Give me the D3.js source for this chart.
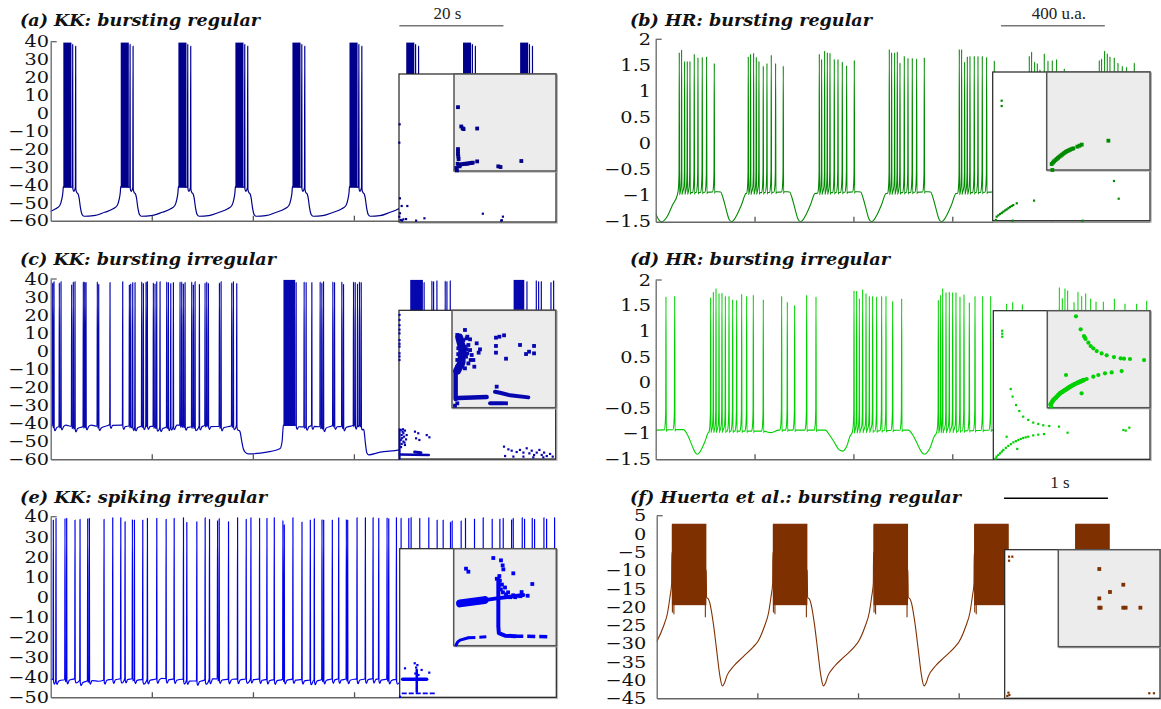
<!DOCTYPE html>
<html>
<head>
<meta charset="utf-8">
<script src="https://cdnjs.cloudflare.com/ajax/libs/d3/7.8.5/d3.min.js"></script>
<style>
  body { margin: 0; background: #fff; }
  svg  { display: block; }
</style>
</head>
<body>
<svg id="fig" width="1161" height="709"></svg>
<script>
// ── Data (time in normalised units 0–100 per panel, voltage in axis units) ──

const kkRegTicks   = [-60, -50, -40, -30, -20, -10, 0, 10, 20, 30, 40];
const kkSpkTicks   = [-50, -40, -30, -20, -10, 0, 10, 20, 30, 40];
const hrTicks      = [-1.5, -1, -0.5, 0, 0.5, 1, 1.5, 2];
const huertaTicks  = [-45, -40, -35, -30, -25, -20, -15, -10, -5, 0, 5];
const timeTicks    = [20, 40, 60, 80];

// (a) KK bursting regular
const kkRegOnsets = [2.5, 13.86, 25.27, 36.55, 47.84, 59.13, 70.36, 81.6, 92.9];
const kkRegBlock  = [0, 1.6];                       // dense spiking part of a burst
const kkRegSpan   = [-41.5, 39.5];                  // trough / crest of the dense part
const kkRegTail   = [[1.85, 38.5], [2.44, 37.5]];   // last separated spikes
const kkRegPre    = [[-3.2, -55.3], [-1.6, -53.5], [-0.7, -51.5], [-0.3, -48], [-0.08, -44], [0, -41]];
const kkRegPost   = [[1.6, -41.2], [2.55, -41.5], [2.8, -42.5], [3.1, -47], [3.4, -53], [3.7, -56.5], [4.1, -57.5], [6, -57.2]];

// (b) HR bursting regular
const hrRegOnsets = [4.77, 18.73, 33.1, 47.26, 61.42, 75.58, 89.74];
const hrRegOffsets = [0, 0.47, 1.08, 1.62, 2.16, 3.03, 3.78, 4.65, 5.53, 7.08];
const hrRegPeaks = [
  [1.75, 1.80, 1.58, 1.58, 1.58, 1.72, 1.65, 1.66, 1.67, 1.54],
  [1.67, 1.72, 1.74, 1.66, 1.58, 1.49, 1.54, 1.70, 1.54, 1.49],
  [1.72, 1.62, 1.78, 1.75, 1.74, 1.62, 1.62, 1.57, 1.50, 1.60],
  [1.81, 1.75, 1.75, 1.76, 1.55, 1.68, 1.64, 1.64, 1.63, 1.65],
  [1.81, 1.81, 1.57, 1.67, 1.68, 1.68, 1.68, 1.68, 1.66, 1.59],
  [1.68, 1.76, 1.57, 1.54, 1.42, 1.73, 1.59, 1.60, 1.62, 1.44],
  [1.60, 1.63, 1.78, 1.73, 1.67, 1.65, 1.55, 1.49, 1.47, 1.55]
];
const hrRegLead = [[0, -1.34], [0.6, -1.46], [1.2, -1.5], [2.2, -1.42], [3.4, -1.18], [4.4, -0.97]];
const hrRegWave = [[0, -0.95], [7.1, -0.93], [7.25, -0.92], [8.36, -0.93], [8.9, -1.06], [9.58, -1.3],
                   [10.05, -1.45], [10.55, -1.5], [11.1, -1.46], [11.6, -1.38], [12.61, -1.17], [13.49, -0.96]];

// (c) KK bursting irregular
const kkIrrSpikes = [
  [0.39, 38], [0.65, 38.5], [1.71, 38], [2.04, 38.5], [4.15, 37], [4.48, 38.5], [4.81, 38.5],
  [6.46, 38.5], [6.73, 38.5], [6.99, 38], [9.23, 38.5], [9.5, 37], [11.74, 38], [14.25, 38.5],
  [15.57, 37], [15.84, 37.5], [16.23, 38], [16.69, 38], [18.01, 38.5], [18.34, 37.5], [18.87, 38.5],
  [19.13, 38.5], [20.32, 38], [20.65, 37.5], [20.98, 38.5], [21.64, 38.5], [22.96, 38.5], [23.29, 38],
  [23.76, 37.5], [24.28, 38], [25.6, 38.5], [25.93, 38.5], [26.26, 37.5], [26.59, 38], [27.91, 38.5],
  [28.24, 37], [28.57, 38.5], [29.43, 37], [30.55, 38], [30.88, 38.5], [31.21, 37.5], [33.39, 38],
  [33.72, 38.5], [35.83, 38], [36.16, 38.5], [36.82, 37.5],
  [48.57, 38], [50.16, 38.5], [50.55, 38], [51.68, 38], [53.33, 38.5], [53.66, 38], [53.99, 38.5],
  [55.84, 38.5], [56.17, 38], [57.62, 38.5], [57.95, 37], [59.93, 38.5], [60.26, 38], [60.72, 37.5],
  [61.11, 38.5], [61.45, 38],
  [73.9, 38], [75.44, 39], [75.77, 38.5], [76.43, 39], [78.08, 39], [78.41, 38.5], [79.07, 39],
  [94.25, 38.5], [96.1, 39], [96.56, 38.5], [97.09, 38.5], [99.0, 38], [99.53, 39]
];
const kkIrrBlocks = [[46.06, 48.38], [71.15, 73.66], [91.61, 93.72]];
const kkIrrSpan   = [-41.5, 39.5];
const kkIrrBase = [
  [0, -41], [1, -42], [3, -41], [5, -42.5], [8, -41], [10, -42], [12, -40.5], [14, -41], [17, -42],
  [19, -41], [22, -42.5], [25, -41], [28, -42], [31, -41], [34, -42], [36.9, -41], [37.15, -42],
  [37.5, -45], [37.81, -50], [38.1, -54], [38.48, -56], [39.13, -57], [42.77, -56], [45.4, -54],
  [45.8, -50], [45.95, -44], [46.05, -41], [48.6, -41], [50, -42], [52, -41], [54, -42.5], [56, -41],
  [58, -42], [60, -41], [61.5, -41], [61.91, -42], [62.1, -46], [62.24, -50], [62.57, -56.5],
  [62.9, -57.5], [65.2, -56], [68.97, -54.8], [70.16, -54], [70.6, -50], [70.85, -45], [71.05, -41],
  [73.8, -41], [76, -42], [79.1, -41.5], [79.4, -43], [79.7, -50], [80.1, -56], [80.6, -57.5],
  [85, -56.5], [90.5, -54], [91.2, -50], [91.5, -41], [94, -41], [97, -42], [100, -41]
];

// (d) HR bursting irregular
const hrIrrSpikes = [
  [2.08, 1.675], [3.84, 1.69],
  [11.12, 1.66], [11.66, 1.77], [12.2, 1.84], [12.81, 1.74], [13.41, 1.75], [14.09, 1.69], [14.83, 1.69],
  [15.57, 1.62], [16.38, 1.61], [17.39, 1.73], [18.4, 1.69], [19.75, 1.71], [21.77, 1.62],
  [25.48, 1.69], [26.63, 1.57], [28.11, 1.51], [30.54, 1.71], [32.43, 1.675],
  [40.12, 1.79], [40.66, 1.79], [41.2, 1.64], [41.87, 1.82], [42.55, 1.74], [43.22, 1.69], [43.89, 1.69],
  [44.7, 1.675], [45.71, 1.69], [46.59, 1.69], [47.94, 1.59], [49.76, 1.64],
  [57.18, 1.61], [57.65, 1.71], [58.06, 1.84], [58.73, 1.76], [59.4, 1.77], [60.08, 1.76], [60.75, 1.76],
  [61.56, 1.675], [62.37, 1.72], [63.45, 1.56], [64.6, 1.69], [66.15, 1.69], [67.77, 1.69],
  [71.0, 1.54], [72.22, 1.57], [74.17, 1.53],
  [81.66, 1.86], [82.26, 1.65], [82.8, 1.84], [83.34, 1.8], [84.63, 1.57], [85.43, 1.77], [86.18, 1.69],
  [86.99, 1.74], [88.0, 1.64], [89.08, 1.58], [90.56, 1.58], [92.79, 1.64], [94.94, 1.54], [97.3, 1.54],
  [99.33, 1.6]
];
const hrIrrBase = [
  [0, -0.93], [4.3, -0.92], [5.6, -0.92], [6.26, -0.99], [6.93, -1.13], [7.6, -1.29], [8.0, -1.37],
  [8.4, -1.4], [8.85, -1.37], [9.28, -1.3], [9.97, -1.15], [10.65, -0.98], [11.0, -0.95], [21.9, -0.95],
  [23.2, -0.98], [24.95, -0.93], [32.9, -0.93], [34.3, -0.93], [35.26, -1.04], [36.27, -1.19],
  [36.9, -1.29], [37.4, -1.33], [37.82, -1.34], [38.25, -1.31], [38.63, -1.25], [39.3, -1.05],
  [39.84, -0.96], [50.1, -0.93], [51.1, -0.93], [52.1, -1.04], [53.13, -1.24], [53.8, -1.36],
  [54.34, -1.4], [54.9, -1.37], [55.49, -1.28], [56.36, -1.05], [56.97, -0.96],
  [68.3, -0.93], [75, -0.93], [76, -1.05], [77.5, -1.3], [78.5, -1.35], [80, -1.15], [81.3, -0.96],
  [100, -0.95]
];

// (e) KK spiking irregular
const kkSpkTimes = [
  0.52, 1.05, 2.83, 3.16, 4.81, 5.8, 7.32, 7.65, 10.55, 12.27, 13.86, 14.71, 16.16, 16.56, 18.21,
  19.13, 20.98, 22.83, 24.42, 26.26, 26.92, 28.9, 30.55, 31.41, 33.0, 33.33, 35.17, 36.96, 38.67,
  39.6, 41.31, 42.77, 44.22, 45.93, 46.2, 47.91, 49.7, 51.35, 52.14, 53.66, 53.99, 55.7, 56.96,
  58.48, 58.74, 60.59, 62.24, 63.76, 64.88, 66.53, 66.86, 68.38, 69.3, 70.82, 71.28, 72.99, 74.78,
  76.43, 77.62, 79.07, 79.4, 81.18, 82.04, 83.82, 85.54, 87.32, 88.84, 89.5, 91.15, 91.48, 93.26,
  93.72, 95.24, 95.7, 97.55, 98.08, 99.66
];
const kkSpkPeaks = [
  38.3, 39.2, 39.2, 39.2, 38.3, 38.7, 39.2, 39.2, 38.7, 39.5, 39.5, 37.5, 38.7, 38.3, 38.3, 39.2,
  39.2, 38.7, 39.2, 39.5, 37.2, 37.5, 39.5, 38.7, 38.3, 39.0, 37.5, 39.5, 38.7, 39.5, 39.2, 39.2,
  39.5, 38.3, 36.0, 39.5, 37.3, 38.3, 39.0, 38.7, 38.3, 38.3, 39.5, 38.7, 38.3, 39.5, 39.5, 39.5,
  39.2, 39.6, 39.0, 39.5, 39.2, 39.2, 39.6, 39.2, 39.5, 38.3, 38.3, 37.5, 37.9, 37.9, 39.2, 38.8,
  39.5, 38.8, 38.8, 39.2, 38.7, 39.2, 39.5, 38.8, 39.2, 38.7, 39.5, 38.8, 39.5
];
const kkSpkBase = [
  [0, -41], [2, -41.5], [5, -40.5], [6.5, -42.5], [8, -41], [9.5, -42], [11, -41], [15, -40.5],
  [18, -41.2], [22, -40.6], [26, -41], [29, -41.8], [32, -40.8], [36, -41], [40, -40.6], [44, -41.3],
  [48, -40.8], [52, -41.5], [56, -40.7], [60, -41], [64, -40.6], [68, -41.2], [72, -40.8], [76, -41],
  [80, -40.6], [84, -41.2], [88, -40.8], [92, -41], [96, -40.7], [100, -41]
];

// (f) Huerta et al. bursting regular
const huertaOnsets = [2.97, 23.04, 43.04, 63.04, 83.11];
const huertaBlock  = [0.05, 6.9];
const huertaSpan   = [-19.5, 2.8];
const huertaEdges  = [[0.15, -21.5], [0.45, -22], [6.7, -22.8]];
const huertaPre    = [[-2.97, -29.5], [-1.66, -25.4], [-0.8, -21.5], [-0.33, -17.2], [0, -13.5], [0.05, -5]];
const huertaWave   = [[6.85, -10], [6.95, -17.4], [7.3, -17.8], [7.6, -19], [8.28, -24.5], [8.94, -31.8],
                      [9.6, -39], [10.07, -41.6], [10.5, -40.8], [10.93, -39], [12.25, -36.3],
                      [14.24, -33.6], [16.23, -30.9]];

// Return-map insets: [u, w] in the unit square of each box
const insetAOuter = [[0.004,0.66],[0.002,0.536],[0.006,0.16],[0.017,0.108],[0.053,0.108],[0.006,0.059],
  [0.002,0.036],[0.011,0.014],[0.019,0.009],[0.028,0.018],[0.045,0.02],[0.109,0.009],[0.162,0.025],
  [0.534,0.056],[0.662,0.036],[0.651,0.009],[0.655,0.012]];
const insetAZoom = [[0.039,0.658],[0.071,0.459],[0.094,0.432],[0.085,0.44],[0.227,0.438],[0.039,0.226],
  [0.039,0.2],[0.039,0.175],[0.042,0.151],[0.045,0.123],[0.036,0.075],[0.061,0.065],[0.094,0.072],
  [0.126,0.075],[0.159,0.082],[0.184,0.086],[0.227,0.099],[0.434,0.048],[0.456,0.041],[0.66,0.103],
  [0.023,0.031],[0.029,0.007],[0.055,0.048],[0.045,0.055],[0.075,0.07],[0.11,0.075],[0.14,0.078],[0.17,0.083]];

const insetBOuter = [[0.057,0.807],[0.057,0.771],[0.025,0.027],[0.036,0.036],[0.047,0.045],[0.058,0.053],
  [0.068,0.061],[0.079,0.069],[0.089,0.076],[0.1,0.084],[0.11,0.092],[0.121,0.099],[0.131,0.105],
  [0.153,0.117],[0.263,0.135],[0.771,0.267],[0.801,0.148],[0.127,0.0],[0.572,0.0],[0.02,0.005]];
const insetBZoom = [[0.048,0.061],[0.06,0.075],[0.071,0.088],[0.084,0.1],[0.097,0.112],[0.11,0.124],
  [0.123,0.136],[0.136,0.146],[0.148,0.156],[0.161,0.167],[0.174,0.177],[0.187,0.186],[0.2,0.194],
  [0.213,0.2],[0.226,0.207],[0.242,0.214],[0.258,0.221],[0.297,0.238],[0.318,0.248],[0.339,0.259],
  [0.597,0.299],[0.055,0.0]];

const insetCOuter = [[0.003,0.969],[0.003,0.935],[0.003,0.9],[0.003,0.87],[0.003,0.845],[0.003,0.8],
  [0.003,0.775],[0.003,0.756],[0.003,0.711],[0.003,0.69],[0.003,0.666],
  [0.011,0.195],[0.023,0.184],[0.038,0.191],[0.017,0.161],[0.032,0.15],[0.011,0.128],[0.028,0.117],
  [0.045,0.132],[0.017,0.101],[0.038,0.094],[0.028,0.173],[0.049,0.161],[0.02,0.14],[0.035,0.11],
  [0.013,0.08],[0.025,0.2],[0.102,0.184],[0.123,0.173],[0.109,0.139],[0.13,0.128],[0.177,0.161],
  [0.194,0.146],[0.67,0.083],[0.698,0.065],[0.719,0.056],[0.751,0.047],[0.772,0.061],[0.794,0.043],
  [0.815,0.072],[0.832,0.038],[0.847,0.056],[0.862,0.027],[0.879,0.043],[0.896,0.061],[0.911,0.027],
  [0.926,0.043],[0.943,0.02],[0.964,0.034],[0.981,0.016],[0.677,0.02],[0.73,0.016],[0.794,0.016],
  [0.857,0.011],[0.921,0.011]];
const insetCOuterBands = [
  { pts: [[0.006,0.03],[0.19,0.027]], w: 2.5 },
  { pts: [[0.004,0.0],[0.004,0.2]], w: 2 },
  { pts: [[0.1,0.047],[0.14,0.042]], w: 3 }
];
const insetCZoom = [[0.051,0.747],[0.077,0.729],[0.109,0.695],[0.141,0.712],[0.093,0.661],[0.125,0.627],
  [0.158,0.644],[0.061,0.61],[0.103,0.575],[0.174,0.592],[0.077,0.541],[0.135,0.524],[0.19,0.541],
  [0.051,0.49],[0.109,0.473],[0.158,0.455],[0.077,0.421],[0.125,0.404],[0.061,0.37],[0.148,0.558],
  [0.18,0.49],[0.071,0.449],[0.09,0.5],[0.06,0.55],[0.12,0.56],[0.1,0.43],[0.05,0.42],[0.08,0.65],
  [0.14,0.6],[0.125,0.798],[0.148,0.729],[0.174,0.702],[0.238,0.661],[0.27,0.599],[0.257,0.565],
  [0.206,0.49],[0.215,0.421],[0.424,0.719],[0.457,0.729],[0.502,0.743],[0.424,0.634],[0.424,0.565],
  [0.521,0.503],[0.656,0.644],[0.791,0.634],[0.743,0.575],[0.714,0.551],[0.791,0.558],[0.431,0.216],
  [0.521,0.045],[0.029,0.021],[0.051,0.045]];
const insetCZoomBands = [
  { pts: [[0.035,0.37],[0.035,0.09],[0.06,0.1],[0.334,0.11]], w: 4.5 },
  { pts: [[0.415,0.164],[0.463,0.154],[0.56,0.127],[0.736,0.106]], w: 4 },
  { pts: [[0.367,0.045],[0.495,0.045]], w: 4 },
  { pts: [[0.07,0.72],[0.1,0.6],[0.09,0.46],[0.05,0.38]], w: 8 }
];

const insetDOuter = [[0.057,0.865],[0.057,0.845],[0.057,0.825],
  [0.111,0.473],[0.123,0.422],[0.145,0.365],[0.166,0.325],[0.191,0.287],[0.223,0.265],[0.255,0.247],
  [0.287,0.238],[0.319,0.229],[0.357,0.224],[0.419,0.22],[0.474,0.179],
  [0.021,0.018],[0.032,0.029],[0.043,0.04],[0.054,0.052],[0.064,0.063],[0.08,0.077],[0.096,0.09],
  [0.112,0.102],[0.128,0.114],[0.144,0.122],[0.16,0.13],[0.175,0.137],[0.191,0.143],[0.207,0.148],
  [0.223,0.152],[0.255,0.161],[0.287,0.166],[0.323,0.17],
  [0.085,0.152],[0.153,0.07],[0.83,0.197],[0.845,0.193],[0.868,0.213],[0.015,0.005]];
const insetDZoom = [[0.279,0.942],[0.325,0.808],[0.357,0.739],[0.365,0.724],[0.373,0.708],[0.4,0.67],
  [0.422,0.636],[0.448,0.612],[0.481,0.584],[0.529,0.56],[0.578,0.54],[0.649,0.522],[0.714,0.509],
  [0.747,0.505],[0.805,0.502],[0.942,0.491],
  [0.032,0.034],[0.045,0.056],[0.058,0.079],[0.075,0.096],[0.091,0.113],[0.107,0.131],[0.123,0.148],
  [0.148,0.165],[0.172,0.182],[0.196,0.199],[0.221,0.216],[0.245,0.23],[0.269,0.244],[0.297,0.258],
  [0.325,0.271],[0.354,0.284],[0.383,0.296],[0.448,0.32],[0.497,0.337],[0.562,0.354],[0.627,0.364],
  [0.724,0.378],[0.182,0.337],[0.334,0.148],[0.039,0.01]];
const insetDZoomBands = [
  { pts: [[0.032,0.034],[0.058,0.079],[0.091,0.113],[0.123,0.148],[0.172,0.182],[0.221,0.216],
          [0.269,0.244],[0.325,0.271],[0.354,0.284]], w: 4.5 }
];

const insetEOuter = [[0.034,0.195],[0.096,0.229],[0.113,0.217],[0.14,0.184],[0.189,0.166],[0.002,0.004],
  [0.1,0.16],[0.12,0.15],[0.105,0.2]];
const insetEOuterBands = [
  { pts: [[0.019,0.121],[0.172,0.121]], w: 3.5 },
  { pts: [[0.109,0.184],[0.109,0.038]], w: 2.5 },
  { pts: [[0.013,0.027],[0.226,0.027]], w: 1.8, dash: '5 2' }
];
const insetEZoom = [[0.42,0.69],[0.45,0.67],[0.47,0.63],[0.44,0.62],[0.5,0.6],[0.53,0.55],[0.48,0.55],
  [0.55,0.5],[0.6,0.5],[0.46,0.58],[0.51,0.53],[0.58,0.52],[0.65,0.51],
  [0.386,0.904],[0.461,0.88],[0.477,0.828],[0.484,0.787],[0.12,0.794],[0.143,0.763],[0.581,0.746],
  [0.766,0.636],[0.662,0.553],[0.721,0.515],[0.445,0.718]];
const insetEZoomBands = [
  { pts: [[0.062,0.436],[0.3,0.47]], w: 8 },
  { pts: [[0.3,0.47],[0.419,0.488],[0.679,0.522]], w: 4 },
  { pts: [[0.435,0.694],[0.435,0.2],[0.44,0.13],[0.5,0.103],[0.6,0.098]], w: 4 },
  { pts: [[0.6,0.098],[0.922,0.093]], w: 3.5, dash: '8 4' },
  { pts: [[0.023,0.007],[0.04,0.04],[0.062,0.058],[0.143,0.082]], w: 3 },
  { pts: [[0.143,0.082],[0.354,0.093]], w: 3, dash: '7 4' }
];

const insetFOuter = [[0.028,0.953],[0.049,0.953],[0.028,0.926],[0.024,0.038],[0.03,0.022],[0.017,0.016],
  [0.931,0.034],[0.961,0.034]];
const insetFZoom = [[0.403,0.801],[0.639,0.639],[0.508,0.564],[0.403,0.498],[0.403,0.402],[0.416,0.402],
  [0.639,0.402],[0.662,0.402],[0.807,0.402]];

// ── Trace construction ───────────────────────────────────────────────────────

const KK_SHAPE = { pre: [[-0.06, 0]], post: [[0.04, -1], [0.2, -2.3], [0.5, -0.6]] };
const HR_SHAPE = { pre: [[-0.35, 0], [-0.15, 0.12], [-0.05, 0.4]], post: [[0.06, -0.03], [0.15, 0]] };

function buildTrace(baseKeys, spikes, shape) {
  const keys = baseKeys.slice().sort((p, q) => p[0] - q[0]);
  const base = d3.scaleLinear(keys.map(d => d[0]), keys.map(d => d[1])).clamp(true);
  const pts = [], busy = [];
  spikes.forEach(([t, h], i) => {
    const lo = i > 0 ? (spikes[i - 1][0] + t) / 2 : -Infinity;
    const hi = i < spikes.length - 1 ? (spikes[i + 1][0] + t) / 2 : Infinity;
    const own = [];
    shape.pre.forEach(([dt, dv]) => { if (t + dt > lo) own.push([t + dt, base(t + dt) + dv]); });
    own.push([t, h]);
    shape.post.forEach(([dt, dv]) => { if (t + dt < hi) own.push([t + dt, base(t + dt) + dv]); });
    busy.push([own[0][0], own[own.length - 1][0]]);
    pts.push(...own);
  });
  keys.forEach(k => {
    if (!busy.some(([a, b]) => k[0] >= a - 0.02 && k[0] <= b + 0.02)) pts.push(k);
  });
  pts.sort((p, q) => p[0] - q[0]);
  return pts.filter((p, i) => i === 0 || p[0] > pts[i - 1][0] + 1e-6);
}

// (a)
const aBase = [], aSpikes = [];
kkRegOnsets.forEach(s => {
  kkRegPre.forEach(([dt, v]) => aBase.push([s + dt, v]));
  kkRegPost.forEach(([dt, v]) => aBase.push([s + dt, v]));
  kkRegTail.forEach(([dt, h]) => aSpikes.push([s + dt, h]));
});
const traceA  = buildTrace(aBase, aSpikes, KK_SHAPE);
const blocksA = kkRegOnsets.map(s => [s + kkRegBlock[0], s + kkRegBlock[1], kkRegSpan[0], kkRegSpan[1]]);

// (b)
const bBase = hrRegLead.slice(), bSpikes = [];
hrRegOnsets.forEach((s, i) => {
  hrRegWave.forEach(([dt, v]) => bBase.push([s + dt, v]));
  hrRegOffsets.forEach((dt, j) => bSpikes.push([s + dt, hrRegPeaks[i][j]]));
});
const traceB = buildTrace(bBase, bSpikes, HR_SHAPE);

// (c)
const traceC  = buildTrace(kkIrrBase, kkIrrSpikes, KK_SHAPE);
const blocksC = kkIrrBlocks.map(([a, b]) => [a, b, kkIrrSpan[0], kkIrrSpan[1]]);

// (d)
const traceD = buildTrace(hrIrrBase, hrIrrSpikes, HR_SHAPE);

// (e)
const traceE = buildTrace(kkSpkBase, kkSpkTimes.map((t, i) => [t, kkSpkPeaks[i]]), KK_SHAPE);

// (f)
const fBase = [];
huertaOnsets.forEach(s => {
  huertaPre.forEach(([dt, v]) => fBase.push([s + dt, v]));
  huertaWave.forEach(([dt, v]) => fBase.push([s + dt, v]));
});
const traceF  = buildTrace(fBase, [], KK_SHAPE);
const blocksF = huertaOnsets.map(s => [s + huertaBlock[0], s + huertaBlock[1], huertaSpan[0], huertaSpan[1]]);
const edgesF  = huertaOnsets.flatMap(s => huertaEdges.map(([dt, v]) => [s + dt, v, huertaSpan[1] - 0.3]));

// ── Panels ───────────────────────────────────────────────────────────────────

const panels = [
  { key: 'a', title: '(a) KK: bursting regular', color: '#00008b', lw: 1.2,
    yDom: [-60, 40], yTicks: kkRegTicks, trace: traceA, blocks: blocksA,
    L: { x0: 50.7, x1: 556, yt: 41.7, yb: 220.7, tx: 20, ty: 26, tlen: 240, pad: 1.5,
         outer: [399, 556, 74, 222], zoom: [454, 556, 74, 171] },
    inset: { outer: insetAOuter, zoom: insetAZoom },
    bar: { label: '20 s', start: 69, len: 20.6, y: 25.7, ty: 19, dx: -4, color: '#777' } },
  { key: 'b', title: '(b) HR: bursting regular', color: '#008a00', lw: 1.1,
    yDom: [-1.5, 2], yTicks: hrTicks, trace: traceB,
    L: { x0: 655.7, x1: 1150, yt: 39.3, yb: 221.7, tx: 630, ty: 26, tlen: 242, pad: 4,
         outer: [992.7, 1150, 72, 220.7], zoom: [1046.7, 1150, 72, 170] },
    inset: { outer: insetBOuter, zoom: insetBZoom },
    bar: { label: '400 u.a.', start: 69.86, len: 21, y: 25.7, ty: 19, dx: 6, color: '#777' } },
  { key: 'c', title: '(c) KK: bursting irregular', color: '#0707b0', lw: 1.2,
    yDom: [-60, 40], yTicks: kkRegTicks, trace: traceC, blocks: blocksC,
    L: { x0: 50.7, x1: 556, yt: 279, yb: 459.3, tx: 20, ty: 265, tlen: 256, pad: 1.5,
         outer: [399, 555.7, 310.3, 459], zoom: [452, 555.7, 310.3, 407.7] },
    inset: { outer: insetCOuter, zoom: insetCZoom, outerBands: insetCOuterBands, zoomBands: insetCZoomBands } },
  { key: 'd', title: '(d) HR: bursting irregular', color: '#00d000', lw: 1.1,
    yDom: [-1.5, 2], yTicks: hrTicks, trace: traceD,
    L: { x0: 655.7, x1: 1150, yt: 280, yb: 459.3, tx: 630, ty: 265, tlen: 260, pad: 4,
         outer: [993.3, 1150, 310.7, 459.3], zoom: [1047.3, 1150, 310.7, 407.7] },
    inset: { outer: insetDOuter, zoom: insetDZoom, zoomBands: insetDZoomBands, round: true } },
  { key: 'e', title: '(e) KK: spiking irregular', color: '#0000f0', lw: 1.2,
    yDom: [-50, 40], yTicks: kkSpkTicks, trace: traceE,
    L: { x0: 50.7, x1: 556.3, yt: 516.7, yb: 697.3, tx: 20, ty: 503, tlen: 247, pad: 1.5,
         outer: [399.7, 556.3, 548.7, 697.3], zoom: [453.7, 556.3, 548.7, 645.7] },
    inset: { outer: insetEOuter, zoom: insetEZoom, outerBands: insetEOuterBands, zoomBands: insetEZoomBands } },
  { key: 'f', title: '(f) Huerta et al.: bursting regular', color: '#7f3000', lw: 1.1,
    yDom: [-45, 5], yTicks: huertaTicks, trace: traceF, blocks: blocksF, edges: edgesF,
    L: { x0: 656.7, x1: 1160, yt: 515.7, yb: 698.3, tx: 630, ty: 503, tlen: 331, pad: 9,
         outer: [1004.7, 1160, 549.7, 698.3], zoom: [1058.3, 1160, 549.7, 646.7] },
    inset: { outer: insetFOuter, zoom: insetFZoom },
    bar: { label: '1 s', start: 69, len: 20.66, y: 498.3, ty: 488, dx: 4, color: '#000' } }
];

const svg  = d3.select('#fig');
const defs = svg.append('defs');
const fmt  = d3.format('~g');

function drawMarks(g, pts, bands, box, color, size, round) {
  const [bx0, bx1, by0, by1] = box;
  const sx = d3.scaleLinear([0, 1], [bx0, bx1]);
  const sy = d3.scaleLinear([0, 1], [by1, by0]);
  const line = d3.line().x(d => sx(d[0])).y(d => sy(d[1]));
  g.selectAll(null).data(bands || []).join('path')
    .attr('d', d => line(d.pts))
    .attr('fill', 'none').attr('stroke', color)
    .attr('stroke-width', d => d.w)
    .attr('stroke-linecap', d => d.dash ? 'butt' : 'round')
    .attr('stroke-linejoin', 'round')
    .attr('stroke-dasharray', d => d.dash || null);
  if (round) {
    g.selectAll(null).data(pts).join('circle')
      .attr('cx', d => sx(d[0])).attr('cy', d => sy(d[1])).attr('r', size / 2)
      .attr('fill', color);
  } else {
    g.selectAll(null).data(pts).join('rect')
      .attr('x', d => sx(d[0]) - size / 2).attr('y', d => sy(d[1]) - size / 2)
      .attr('width', size).attr('height', size).attr('fill', color);
  }
}

function drawPanel(p) {
  const L = p.L;
  const g = svg.append('g');
  const x = d3.scaleLinear([0, 100], [L.x0, L.x1]);
  const y = d3.scaleLinear(p.yDom, [L.yb, L.yt]);

  defs.append('clipPath').attr('id', 'clip-' + p.key)
    .append('rect').attr('x', L.x0).attr('y', L.yt - 8)
    .attr('width', L.x1 - L.x0).attr('height', L.yb - L.yt + 8.5);
  const tg = g.append('g').attr('clip-path', `url(#clip-${p.key})`);

  tg.selectAll(null).data(p.blocks || []).join('rect')
    .attr('x', d => x(d[0])).attr('width', d => x(d[1]) - x(d[0]))
    .attr('y', d => y(d[3])).attr('height', d => y(d[2]) - y(d[3]))
    .attr('fill', p.color);

  tg.selectAll(null).data(p.edges || []).join('line')
    .attr('x1', d => x(d[0])).attr('x2', d => x(d[0]))
    .attr('y1', d => y(d[2])).attr('y2', d => y(d[1]))
    .attr('stroke', p.color).attr('stroke-width', 1.1);

  const line = d3.line().x(d => x(d[0])).y(d => y(d[1])).curve(d3.curveMonotoneX);
  tg.append('path').datum(p.trace).attr('d', line)
    .attr('fill', 'none').attr('stroke', p.color)
    .attr('stroke-width', p.lw).attr('stroke-linejoin', 'round');

  // axes
  const ya = g.append('g').attr('transform', `translate(${L.x0},0)`)
    .call(d3.axisLeft(y).tickValues(p.yTicks).tickFormat(fmt)
      .tickSize(0).tickSizeOuter(0).tickPadding(L.pad));
  ya.attr('font-size', null).attr('font-family', null);
  ya.select('.domain').attr('stroke', '#666').attr('stroke-width', 1.3);
  ya.selectAll('text')
    .attr('font-family', 'DejaVu Serif').attr('font-size', 16.5).attr('fill', '#111')
    .attr('transform', 'scale(1.17,1)');
  g.append('line')
    .attr('x1', L.x0).attr('x2', L.x0 + 6)
    .attr('y1', y(p.yDom[1])).attr('y2', y(p.yDom[1]))
    .attr('stroke', '#666').attr('stroke-width', 1.3);

  const xa = g.append('g').attr('transform', `translate(0,${L.yb})`)
    .call(d3.axisTop(x).tickValues(timeTicks).tickSize(5).tickSizeOuter(0).tickFormat(''));
  xa.select('.domain').attr('stroke', '#666').attr('stroke-width', 1.5);
  xa.selectAll('.tick line').attr('stroke', '#555').attr('stroke-width', 1.3);

  // inset return map
  const [ox0, ox1, oy0, oy1] = L.outer;
  const [zx0, zx1, zy0, zy1] = L.zoom;
  const ig = g.append('g');
  ig.append('rect').attr('x', ox0 + 1.2).attr('y', oy0 + 1.2)
    .attr('width', ox1 - ox0).attr('height', oy1 - oy0)
    .attr('fill', 'none').attr('stroke', '#bbb').attr('stroke-width', 1.2);
  ig.append('rect').attr('x', ox0).attr('y', oy0)
    .attr('width', ox1 - ox0).attr('height', oy1 - oy0)
    .attr('fill', '#fff').attr('stroke', '#222').attr('stroke-width', 1.2);
  drawMarks(ig, p.inset.outer, p.inset.outerBands, L.outer, p.color, 2.2, false);
  ig.append('rect').attr('x', zx0 + 1).attr('y', zy0 + 1)
    .attr('width', zx1 - zx0).attr('height', zy1 - zy0)
    .attr('fill', 'none').attr('stroke', '#aaa').attr('stroke-width', 1.2);
  ig.append('rect').attr('x', zx0).attr('y', zy0)
    .attr('width', zx1 - zx0).attr('height', zy1 - zy0)
    .attr('fill', '#ececec').attr('stroke', '#555').attr('stroke-width', 1.5);
  drawMarks(ig, p.inset.zoom, p.inset.zoomBands, L.zoom, p.color, p.inset.round ? 4.2 : 3.8, p.inset.round);

  // title
  g.append('text')
    .attr('x', L.tx).attr('y', L.ty)
    .attr('font-family', 'DejaVu Serif').attr('font-weight', 'bold').attr('font-style', 'italic')
    .attr('font-size', 17).attr('fill', '#111')
    .attr('textLength', L.tlen).attr('lengthAdjust', 'spacingAndGlyphs')
    .text(p.title);

  // scale bar
  if (p.bar) {
    const b = p.bar;
    g.append('line')
      .attr('x1', x(b.start)).attr('x2', x(b.start + b.len))
      .attr('y1', b.y).attr('y2', b.y)
      .attr('stroke', b.color).attr('stroke-width', 1.5);
    g.append('text')
      .attr('x', x(b.start + b.len / 2) + b.dx).attr('y', b.ty)
      .attr('text-anchor', 'middle')
      .attr('font-family', 'Liberation Serif').attr('font-size', 17).attr('fill', '#222')
      .text(b.label);
  }
}

panels.forEach(drawPanel);
</script>
</body>
</html>
